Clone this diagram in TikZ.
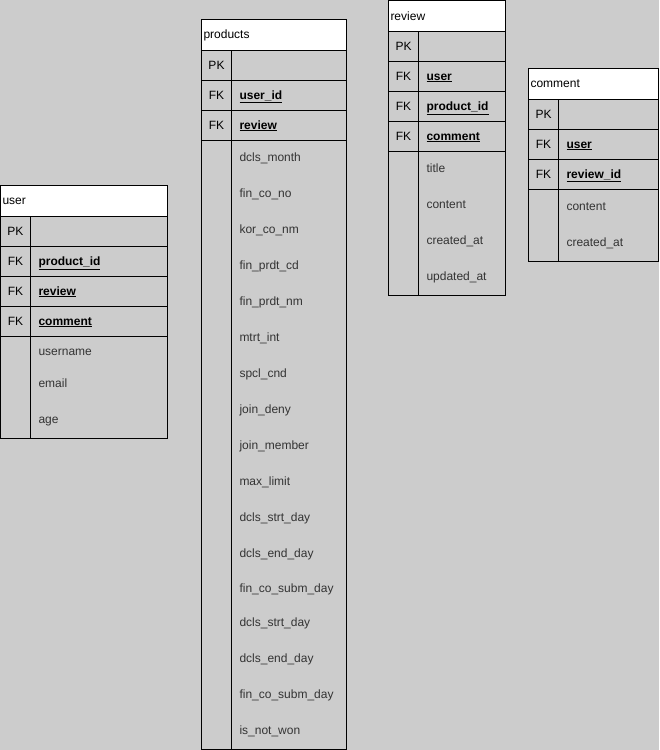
\documentclass[tikz,border=0pt]{standalone}
\usepackage{fontspec}
\setmainfont{Liberation Sans}
\usepackage{xcolor}
\usetikzlibrary{positioning}

\definecolor{canvas}{HTML}{CCCCCC}
\definecolor{attrtext}{HTML}{333333}

\begin{document}
\begin{tikzpicture}[x=1pt, y=-1pt, line width=1pt,
  head node/.style={draw, fill=white, anchor=north west, inner sep=2pt, outer sep=0pt,
    minimum height=31pt, align=left, font=\fontsize{12}{14}\selectfont},
  key node/.style={inner sep=0pt, yshift=-1pt, text height=8.6pt, text depth=2.5pt,
    font=\fontsize{12}{14}\selectfont},
  fk field/.style={anchor=west, inner sep=0pt, yshift=-1pt, text height=8.6pt, text depth=2.5pt,
    font=\fontsize{12}{14}\selectfont\bfseries},
  attr field/.style={anchor=west, inner sep=0pt, yshift=-1pt, text height=8.6pt, text depth=2.5pt,
    text=attrtext, font=\fontsize{12}{14}\selectfont}]

  % canvas
  \fill[canvas] (0,0) rectangle (659,750);
  \useasboundingbox (0,0) rectangle (659,750);

  % user
  \draw (0.5,185.5) rectangle (167.5,438.5);
  \node[head node, text width=163pt] (user) at (0.5,185.5) {user};
  \foreach \y in {246,276,306,336} \draw (0.5,\y) -- (167.5,\y);
  \draw (30.5,216) -- (30.5,438.5);
  \node[key node] (user-pk) at (15.5,231) {PK};
  \node[key node] (user-k1) at (15.5,261) {FK};
  \node[key node] (user-k2) at (15.5,291) {FK};
  \node[key node] (user-k3) at (15.5,321) {FK};
  \node[fk field] (user-f1) at (38,261) {\underline{product\_id}};
  \node[fk field] (user-f2) at (38,291) {\underline{review}};
  \node[fk field] (user-f3) at (38,321) {\underline{comment}};
  \foreach \txt/\y [count=\i] in {username/351, email/383, age/419}
    \node[attr field] (user-a\i) at (38,\y) {\txt};

  % products
  \draw (201.5,19.5) rectangle (346.5,749.5);
  \node[head node, text width=141pt] (products) at (201.5,19.5) {products};
  \foreach \y in {80,110,140} \draw (201.5,\y) -- (346.5,\y);
  \draw (231.5,50) -- (231.5,749.5);
  \node[key node] (products-pk) at (216.5,65) {PK};
  \node[key node] (products-k1) at (216.5,95) {FK};
  \node[key node] (products-k2) at (216.5,125) {FK};
  \node[fk field] (products-f1) at (239,95) {\underline{user\_id}};
  \node[fk field] (products-f2) at (239,125) {\underline{review}};
  \foreach \txt/\y [count=\i] in {dcls\_month/157, fin\_co\_no/193, kor\_co\_nm/229,
      fin\_prdt\_cd/265, fin\_prdt\_nm/301, mtrt\_int/337, spcl\_cnd/373,
      join\_deny/409, join\_member/445, max\_limit/481, dcls\_strt\_day/517,
      dcls\_end\_day/553, fin\_co\_subm\_day/588, dcls\_strt\_day/622,
      dcls\_end\_day/658, fin\_co\_subm\_day/694, is\_not\_won/730}
    \node[attr field] (products-a\i) at (239,\y) {\txt};

  % review
  \draw (388.5,0.5) rectangle (505.5,295.5);
  \node[head node, text width=113pt] (review) at (388.5,0.5) {review};
  \foreach \y in {61,91,121,151} \draw (388.5,\y) -- (505.5,\y);
  \draw (418.5,31) -- (418.5,295.5);
  \node[key node] (review-pk) at (403.5,46) {PK};
  \node[key node] (review-k1) at (403.5,76) {FK};
  \node[key node] (review-k2) at (403.5,106) {FK};
  \node[key node] (review-k3) at (403.5,136) {FK};
  \node[fk field] (review-f1) at (426,76) {\underline{user}};
  \node[fk field] (review-f2) at (426,106) {\underline{product\_id}};
  \node[fk field] (review-f3) at (426,136) {\underline{comment}};
  \foreach \txt/\y [count=\i] in {title/168, content/204, created\_at/240, updated\_at/276}
    \node[attr field] (review-a\i) at (426,\y) {\txt};

  % comment
  \draw (528.5,68.5) rectangle (658.5,261.5);
  \node[head node, text width=126pt] (comment) at (528.5,68.5) {comment};
  \foreach \y in {129,159,189} \draw (528.5,\y) -- (658.5,\y);
  \draw (558.5,99) -- (558.5,261.5);
  \node[key node] (comment-pk) at (543.5,114) {PK};
  \node[key node] (comment-k1) at (543.5,144) {FK};
  \node[key node] (comment-k2) at (543.5,174) {FK};
  \node[fk field] (comment-f1) at (566,144) {\underline{user}};
  \node[fk field] (comment-f2) at (566,174) {\underline{review\_id}};
  \foreach \txt/\y [count=\i] in {content/206, created\_at/242}
    \node[attr field] (comment-a\i) at (566,\y) {\txt};
\end{tikzpicture}
\end{document}
